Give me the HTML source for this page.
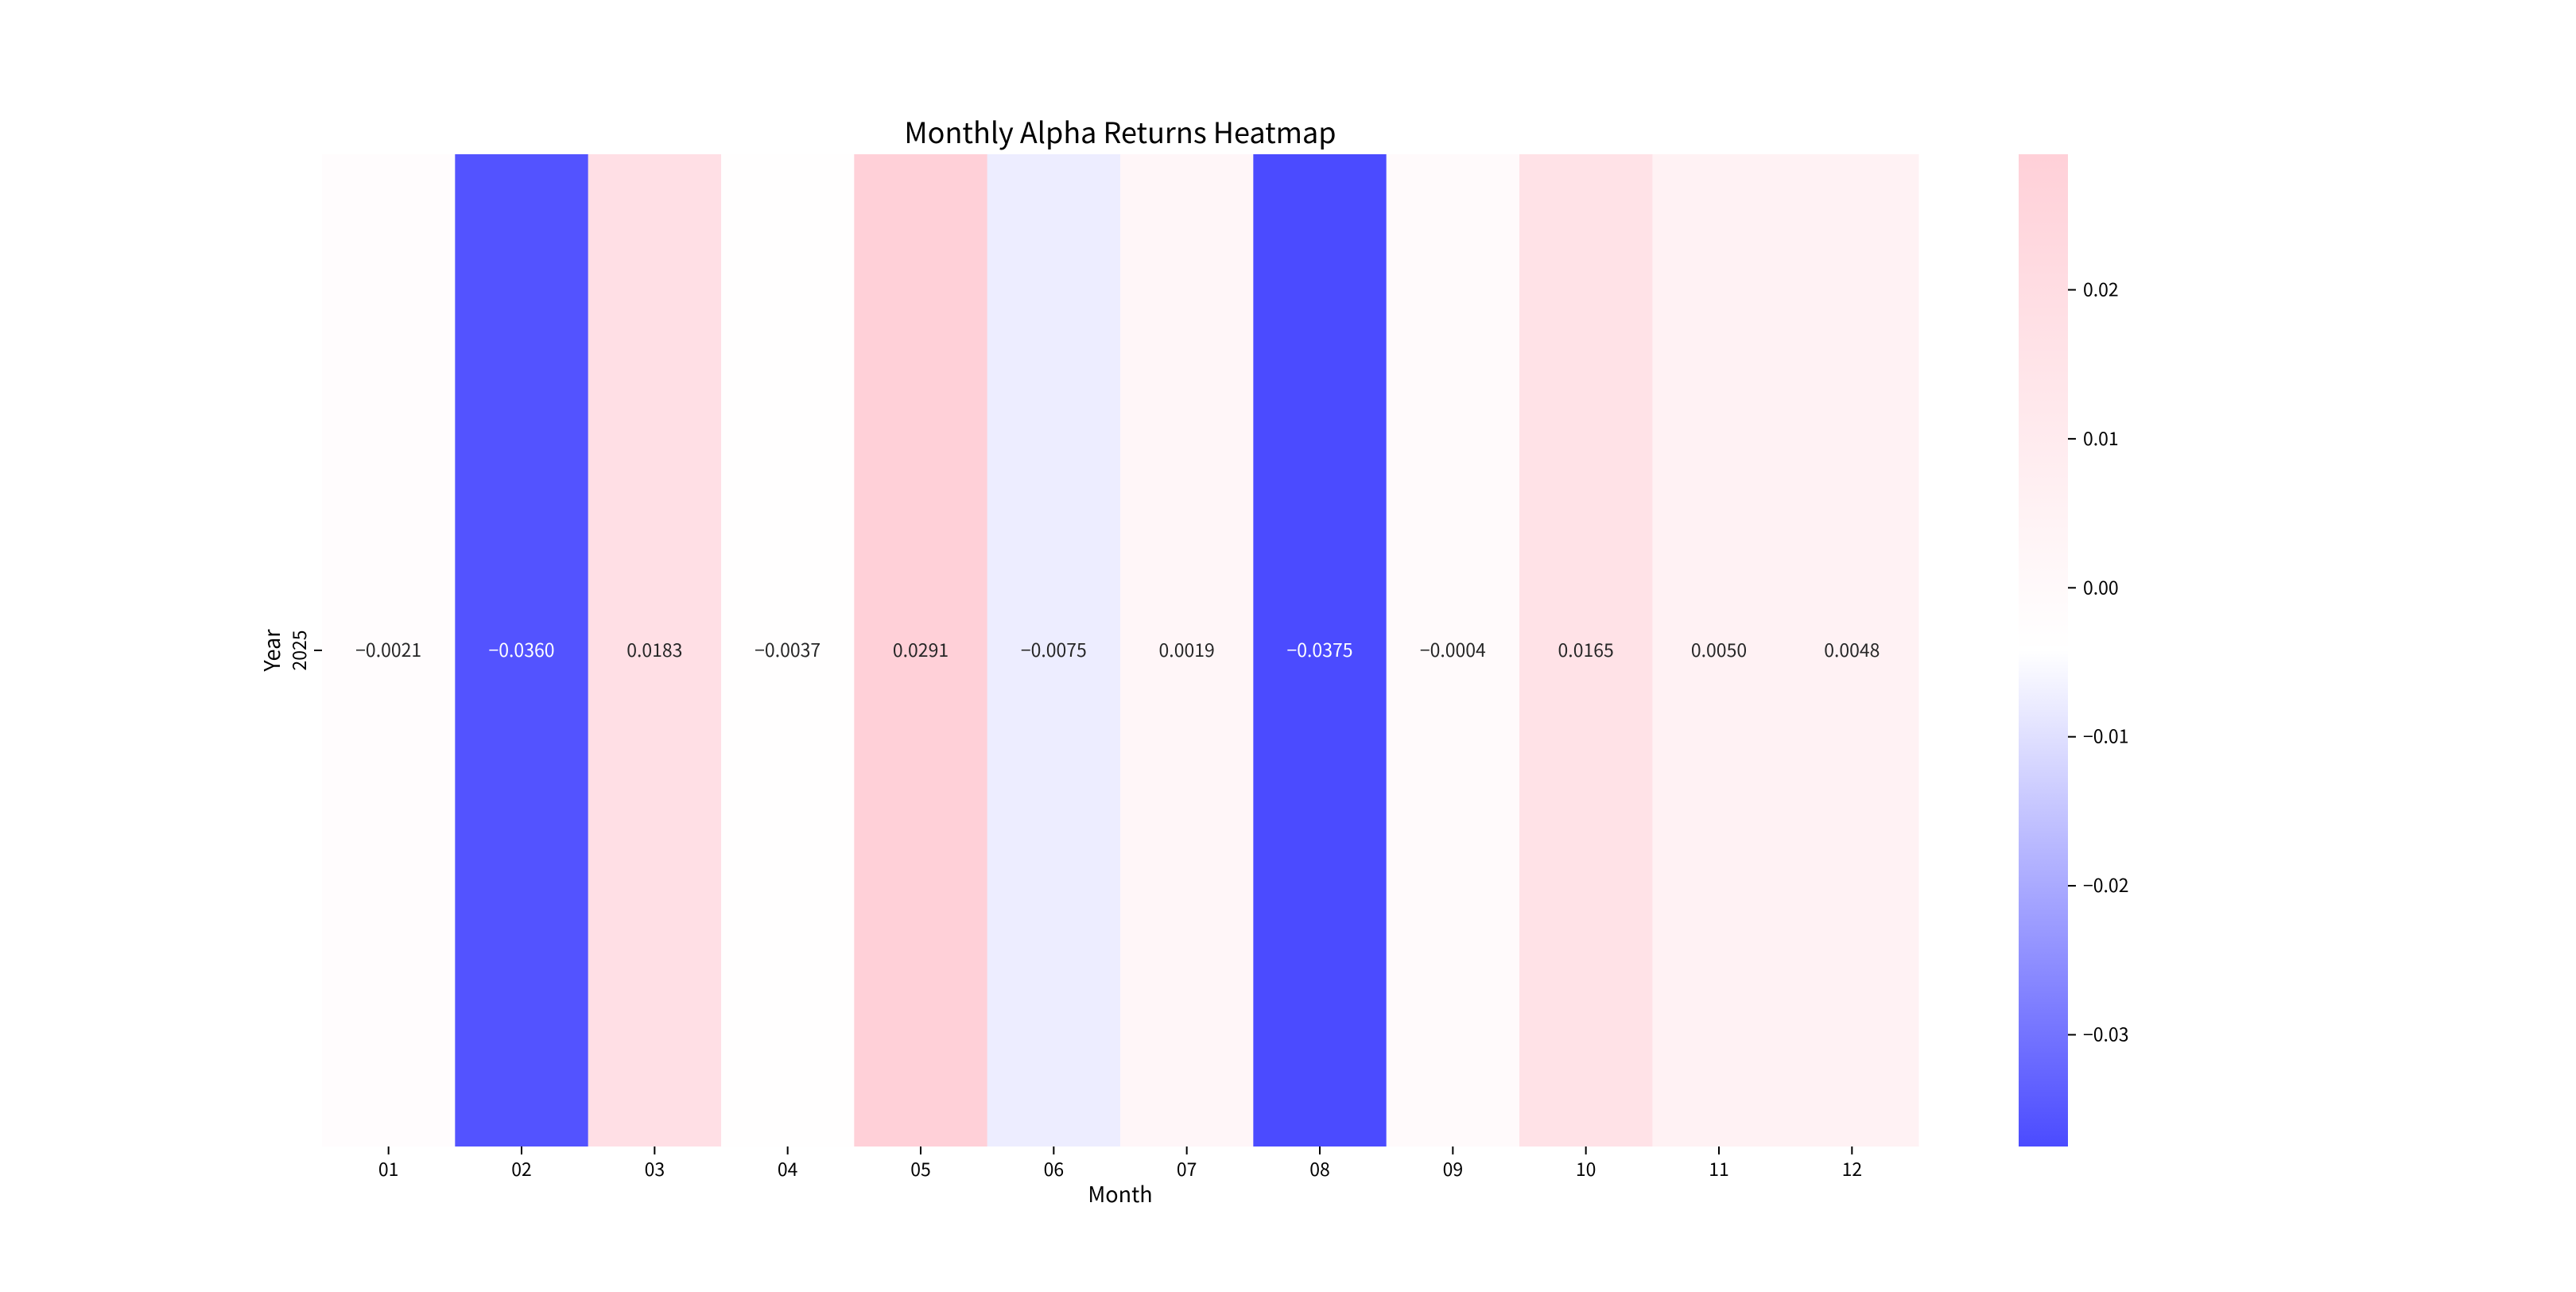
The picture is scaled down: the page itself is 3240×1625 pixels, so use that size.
<!DOCTYPE html>
<html><head><meta charset="utf-8"><style>
html,body{margin:0;padding:0;background:#fff;}
svg text{font-family:"WenQuanYi Zen Hei","Noto Sans CJK SC",sans-serif;}
</style></head><body>
<svg id="chart" width="3240" height="1620" viewBox="0 0 3240 1620" xmlns="http://www.w3.org/2000/svg">
<defs>
<linearGradient id="cbgrad" x1="0" y1="1" x2="0" y2="0">
<stop offset="0" stop-color="rgb(75,75,255)"/>
<stop offset="0.5" stop-color="rgb(255,255,255)"/>
<stop offset="1" stop-color="rgb(255,208,216)"/>
</linearGradient>
</defs>
<text x="1409" y="180" font-size="36" text-anchor="middle">Monthly Alpha Returns Heatmap</text>
<g id="cells"></g>
<g id="xaxis"></g>
<text x="1409" y="1512" font-size="27" text-anchor="middle">Month</text>
<line x1="395" y1="818" x2="405" y2="818" stroke="#000" stroke-width="2"/>
<text transform="translate(385,818) rotate(-90)" font-size="23" text-anchor="middle">2025</text>
<text transform="translate(352,818) rotate(-90)" font-size="27" text-anchor="middle">Year</text>
<rect x="2539" y="194" width="62" height="1248" fill="url(#cbgrad)"/>
<g id="cbticks"></g>
</svg>
<script>
const months = ["01","02","03","04","05","06","07","08","09","10","11","12"];
const values = [-0.0021,-0.0360,0.0183,-0.0037,0.0291,-0.0075,0.0019,-0.0375,-0.0004,0.0165,0.0050,0.0048];
const cbTicks = [0.02,0.01,0.00,-0.01,-0.02,-0.03];
const cbTickLabels = ["0.02","0.01","0.00","\u22120.01","\u22120.02","\u22120.03"];

const NS="http://www.w3.org/2000/svg";
const X0=405,X1=2413,Y0=194,Y1=1442;
const vmin=Math.min(...values), vmax=Math.max(...values);
const cw=(X1-X0)/months.length;
function xPos(i){return X0+i*cw;}
function cbY(v){return Y1-(v-vmin)/(vmax-vmin)*(Y1-Y0);}
function color(v){
  const t=(v-vmin)/(vmax-vmin);
  let r,g,b;
  if(t<0.5){const u=t/0.5;r=75+(255-75)*u;g=r;b=255;}
  else{const u=(t-0.5)/0.5;r=255;g=255-(255-208)*u;b=255-(255-216)*u;}
  return `rgb(${Math.round(r)},${Math.round(g)},${Math.round(b)})`;
}
function mk(tag,attrs){const e=document.createElementNS(NS,tag);for(const k in attrs)e.setAttribute(k,attrs[k]);return e;}
const cells=document.getElementById('cells'), xa=document.getElementById('xaxis'), cb=document.getElementById('cbticks');
values.forEach((v,i)=>{
  const r=mk('rect',{x:xPos(i),y:Y0,width:cw+0.5,height:Y1-Y0,fill:color(v)});
  
  
  cells.appendChild(r);
  const t=(v-vmin)/(vmax-vmin);
  const tx=mk('text',{x:xPos(i)+cw/2,y:826,'font-size':23,'text-anchor':'middle',fill:(t<0.2?'#fff':'#262626')});
  tx.textContent=(v<0?'\u2212':'')+Math.abs(v).toFixed(4);
  
  
  cells.appendChild(tx);
});
months.forEach((m,i)=>{
  const cx=xPos(i)+cw/2;
  const l=mk('line',{x1:cx,y1:Y1,x2:cx,y2:Y1+10,stroke:'#000','stroke-width':2});
  
  
  xa.appendChild(l);
  const t=mk('text',{x:cx,y:1479,'font-size':23,'text-anchor':'middle'});
  t.textContent=m;
  
  
  xa.appendChild(t);
});
cbTicks.forEach((v,i)=>{
  const y=cbY(v);
  const l=mk('line',{x1:2601,y1:y,x2:2611,y2:y,stroke:'#000','stroke-width':2});
  
  
  cb.appendChild(l);
  const t=mk('text',{x:2620,y:y+8,'font-size':23});
  t.textContent=cbTickLabels[i];
  
  
  cb.appendChild(t);
});
</script>
</body></html>
